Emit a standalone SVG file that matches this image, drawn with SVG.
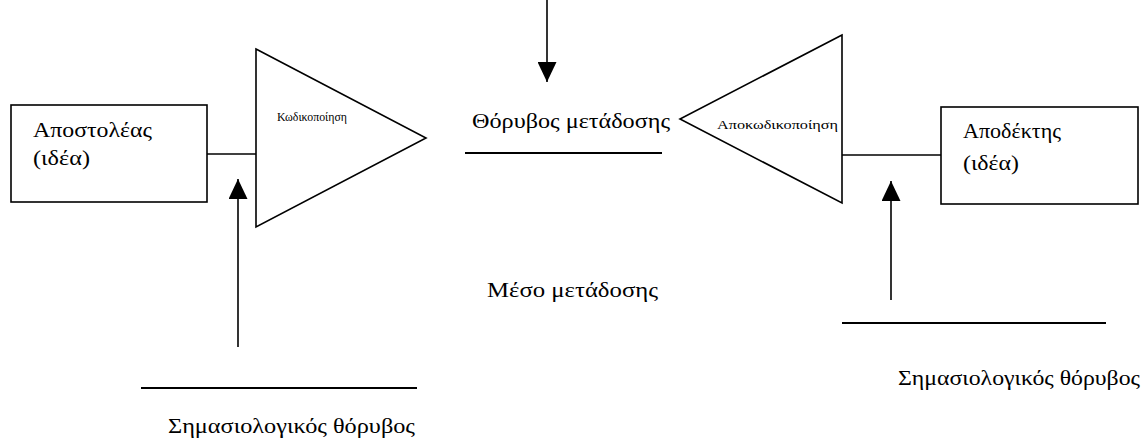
<svg xmlns="http://www.w3.org/2000/svg" width="1148" height="446" viewBox="0 0 1148 446">
  <style>
    .shape { fill: #ffffff; stroke: #000000; stroke-width: 1.6; }
    .wire { fill: none; stroke: #000000; stroke-width: 1.6; }
    .rule { fill: none; stroke: #000000; stroke-width: 2; }
    .label { font-family: "Liberation Serif", "DejaVu Serif", "Times New Roman", serif; font-size: 22px; fill: #000000; }
    .small { font-family: "Liberation Serif", "DejaVu Serif", "Times New Roman", serif; font-size: 12px; fill: #000000; }
  </style>
  <defs>
    <marker id="headBig" viewBox="0 0 20 20" refX="20" refY="10" markerWidth="20" markerHeight="19" markerUnits="userSpaceOnUse" orient="auto" preserveAspectRatio="none">
      <path d="M0,0 L20,10 L0,20 Z" fill="#000000"/>
    </marker>
  </defs>
  <rect width="1148" height="446" fill="#ffffff"/>

  <!-- connectors and noise arrows -->
  <g id="connectors">
    <line class="wire" x1="207" y1="154" x2="256" y2="154"/>
    <line class="wire" x1="842" y1="155" x2="941" y2="155"/>
    <line class="wire" x1="547" y1="0" x2="547" y2="82" marker-end="url(#headBig)"/>
    <line class="wire" x1="238" y1="347" x2="238" y2="179" marker-end="url(#headBig)"/>
    <line class="wire" x1="891" y1="300" x2="891" y2="181" marker-end="url(#headBig)"/>
  </g>

  <!-- sender -->
  <g id="sender">
    <rect class="shape" x="11" y="105" width="196" height="97"/>
    <text class="label" x="33" y="137" textLength="119" lengthAdjust="spacingAndGlyphs">Αποστολέας</text>
    <text class="label" x="33" y="165" textLength="57" lengthAdjust="spacingAndGlyphs">(ιδέα)</text>
  </g>

  <!-- encoder -->
  <g id="encoder">
    <polygon class="shape" points="256,49 426,138 256,227"/>
    <text class="small" x="277" y="121" textLength="70" lengthAdjust="spacingAndGlyphs">Κωδικοποίηση</text>
  </g>

  <!-- channel noise -->
  <g id="channel-noise">
    <text class="label" x="472" y="128" textLength="198" lengthAdjust="spacingAndGlyphs">Θόρυβος μετάδοσης</text>
    <line class="rule" x1="465" y1="153" x2="662" y2="153"/>
  </g>

  <!-- medium -->
  <g id="medium">
    <text class="label" x="487" y="297" textLength="171" lengthAdjust="spacingAndGlyphs">Μέσο μετάδοσης</text>
  </g>

  <!-- decoder -->
  <g id="decoder">
    <polygon class="shape" points="842,35 680,119 842,203"/>
    <text class="small" x="717" y="129" textLength="121" lengthAdjust="spacingAndGlyphs">Αποκωδικοποίηση</text>
  </g>

  <!-- receiver -->
  <g id="receiver">
    <rect class="shape" x="941" y="107" width="197" height="97"/>
    <text class="label" x="963" y="138" textLength="98" lengthAdjust="spacingAndGlyphs">Αποδέκτης</text>
    <text class="label" x="963" y="170" textLength="56" lengthAdjust="spacingAndGlyphs">(ιδέα)</text>
  </g>

  <!-- semantic noise, sender side -->
  <g id="semantic-noise-left">
    <line class="rule" x1="141" y1="388" x2="417" y2="388"/>
    <text class="label" x="168" y="433" textLength="247" lengthAdjust="spacingAndGlyphs">Σημασιολογικός θόρυβος</text>
  </g>

  <!-- semantic noise, receiver side -->
  <g id="semantic-noise-right">
    <line class="rule" x1="842" y1="323" x2="1106" y2="323"/>
    <text class="label" x="898" y="385" textLength="242" lengthAdjust="spacingAndGlyphs">Σημασιολογικός θόρυβος</text>
  </g>
</svg>
